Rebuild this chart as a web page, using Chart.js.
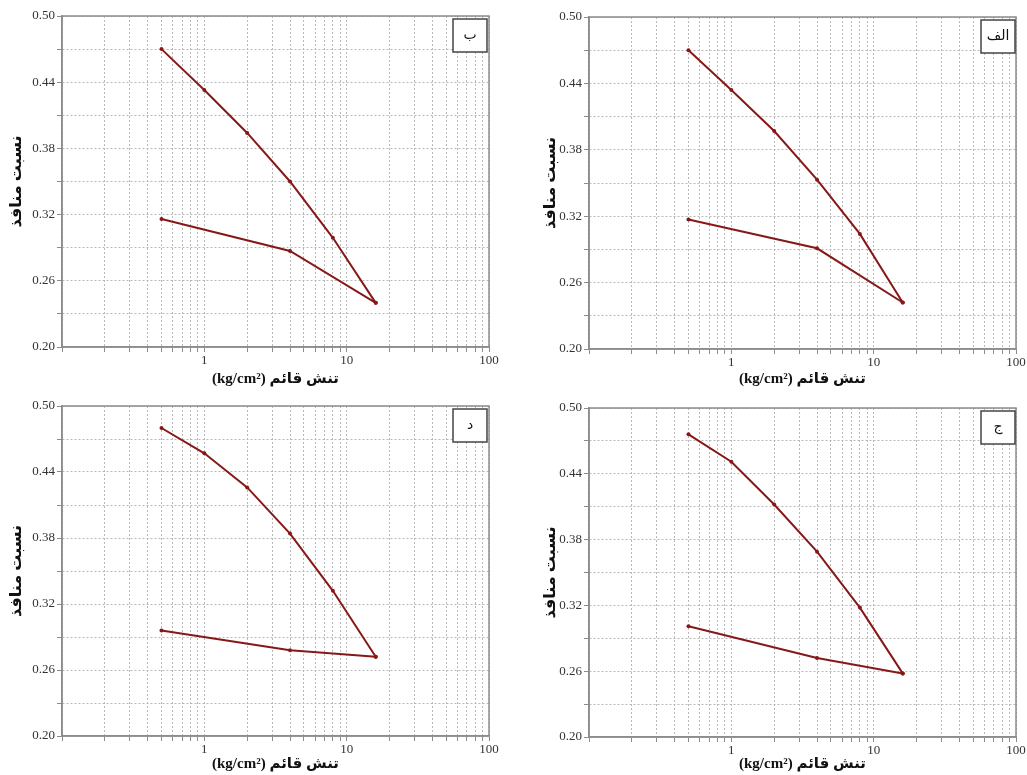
<!DOCTYPE html>
<html>
<head>
<meta charset="utf-8">
<script src="https://cdn.jsdelivr.net/npm/chart.js@4.4.1/dist/chart.umd.min.js"></script>
<style>
  body { margin: 0; background: #fff; }
  .panel { position: absolute; }
</style>
</head>
<body>
<div class="panel" style="left:0;top:0;width:500px;height:390px"><canvas id="chartB"></canvas></div>
<div class="panel" style="left:520px;top:0;width:507px;height:390px"><canvas id="chartAlef"></canvas></div>
<div class="panel" style="left:0;top:390px;width:500px;height:385px"><canvas id="chartDal"></canvas></div>
<div class="panel" style="left:520px;top:390px;width:507px;height:385px"><canvas id="chartJim"></canvas></div>
<script>
// stress (kg/cm2) for loading and unloading branches
const stressLoad = [0.5, 1, 2, 4, 8, 16];
const stressUnload = [16, 4, 0.5];

// void ratio readings per panel
const voidLoadAlef = [0.470, 0.434, 0.397, 0.353, 0.304, 0.242];
const voidUnloadAlef = [0.242, 0.291, 0.317];
const voidLoadB = [0.470, 0.433, 0.394, 0.350, 0.299, 0.240];
const voidUnloadB = [0.240, 0.287, 0.316];
const voidLoadJim = [0.476, 0.451, 0.412, 0.369, 0.318, 0.258];
const voidUnloadJim = [0.258, 0.272, 0.301];
const voidLoadDal = [0.480, 0.457, 0.426, 0.384, 0.332, 0.272];
const voidUnloadDal = [0.272, 0.278, 0.296];

// axis ticks
const xTicks = [0.1, 0.2, 0.3, 0.4, 0.5, 0.6, 0.7, 0.8, 0.9,
                1, 2, 3, 4, 5, 6, 7, 8, 9,
                10, 20, 30, 40, 50, 60, 70, 80, 90, 100];
const xLabels = [1, 10, 100];
const yTicks = [0.20, 0.23, 0.26, 0.29, 0.32, 0.35, 0.38, 0.41, 0.44, 0.47, 0.50];
const yLabels = [0.20, 0.26, 0.32, 0.38, 0.44, 0.50];

const lineColor = '#861818';
const gridColor = '#b8b8b8';
const frameColor = '#8c8c8c';
const serif = "'Liberation Serif', 'DejaVu Serif', serif";
const titleFont = "'Liberation Serif', 'DejaVu Sans', sans-serif";

// frame + corner label box
const panelDecor = {
    id: 'panelDecor',
    beforeDatasetsDraw(chart, args, opts) {
        const a = chart.chartArea;
        const ctx = chart.ctx;
        ctx.save();
        ctx.strokeStyle = frameColor;
        ctx.lineWidth = 1.5;
        ctx.strokeRect(a.left, a.top, a.right - a.left, a.bottom - a.top);
        ctx.restore();
    },
    afterDraw(chart, args, opts) {
        const a = chart.chartArea;
        const ctx = chart.ctx;
        const w = 34, h = 33;
        const x = a.right - w - opts.dx, y = a.top + opts.dy;
        ctx.save();
        ctx.fillStyle = '#fff';
        ctx.fillRect(x, y, w, h);
        ctx.strokeStyle = '#444';
        ctx.lineWidth = 1.5;
        ctx.strokeRect(x, y, w, h);
        ctx.fillStyle = '#111';
        ctx.font = "14px 'DejaVu Sans', sans-serif";
        ctx.textAlign = 'center';
        ctx.textBaseline = 'middle';
        ctx.fillText(opts.text, x + w / 2, y + h / 2);
        ctx.restore();
    }
};

function makeChart(id, letter, loadVals, unloadVals, lay) {
    const ctx = document.getElementById(id).getContext('2d');
    new Chart(ctx, {
        type: 'line',
        data: {
            datasets: [
                {
                    data: stressLoad.map((x, i) => ({ x: x, y: loadVals[i] })),
                    borderColor: lineColor,
                    backgroundColor: lineColor,
                    borderWidth: 2,
                    pointRadius: 2,
                    pointBorderWidth: 0,
                    tension: 0
                },
                {
                    data: stressUnload.map((x, i) => ({ x: x, y: unloadVals[i] })),
                    borderColor: lineColor,
                    backgroundColor: lineColor,
                    borderWidth: 2,
                    pointRadius: 2,
                    pointBorderWidth: 0,
                    tension: 0
                }
            ]
        },
        options: {
            responsive: true,
            maintainAspectRatio: false,
            animation: false,
            layout: { padding: { top: lay.top, right: 11, left: lay.left, bottom: 0 } },
            plugins: {
                legend: { display: false },
                tooltip: { enabled: false },
                panelDecor: { text: letter, dx: lay.boxDx, dy: lay.boxDy }
            },
            scales: {
                x: {
                    type: 'logarithmic',
                    min: 0.1,
                    max: 100,
                    afterBuildTicks: (scale) => { scale.ticks = xTicks.map(v => ({ value: v })); },
                    afterFit: (scale) => { scale.height = lay.xh; },
                    grid: { color: gridColor, lineWidth: 1, tickLength: 5, tickColor: frameColor },
                    border: { color: frameColor, width: 1.5, dash: [2, 2] },
                    ticks: {
                        autoSkip: false,
                        maxRotation: 0,
                        padding: 1,
                        color: '#333',
                        font: { family: serif, size: 13 },
                        callback: (v) => xLabels.includes(v) ? String(v) : ''
                    },
                    title: {
                        display: true,
                        text: '(kg/cm²) تنش قائم',
                        color: '#111',
                        font: { family: titleFont, size: 15, weight: 'bold' },
                        padding: { top: 2, bottom: 2 }
                    }
                },
                y: {
                    min: 0.2,
                    max: 0.5,
                    afterBuildTicks: (scale) => { scale.ticks = yTicks.map(v => ({ value: v })); },
                    afterFit: (scale) => { scale.width = lay.yw; },
                    grid: { color: gridColor, lineWidth: 1, tickLength: 5, tickColor: frameColor },
                    border: { color: frameColor, width: 1.5, dash: [2, 2] },
                    ticks: {
                        autoSkip: false,
                        padding: 2,
                        color: '#333',
                        font: { family: serif, size: 13 },
                        callback: (v) => yLabels.some(l => Math.abs(l - v) < 1e-6) ? v.toFixed(2) : ''
                    },
                    title: {
                        display: true,
                        text: 'نسبت منافذ',
                        color: '#111',
                        font: { family: titleFont, size: 16, weight: 'bold' },
                        padding: { top: 7, bottom: 4 }
                    }
                }
            }
        },
        plugins: [panelDecor]
    });
}

makeChart('chartB', 'ب', voidLoadB, voidUnloadB, { top: 16, left: 0, yw: 62, xh: 43, boxDx: 2, boxDy: 3 });
makeChart('chartAlef', 'الف', voidLoadAlef, voidUnloadAlef, { top: 17, left: 14, yw: 55, xh: 41, boxDx: 1, boxDy: 3 });
makeChart('chartDal', 'د', voidLoadDal, voidUnloadDal, { top: 16, left: 0, yw: 62, xh: 39, boxDx: 2, boxDy: 3 });
makeChart('chartJim', 'ج', voidLoadJim, voidUnloadJim, { top: 18, left: 14, yw: 55, xh: 38, boxDx: 1, boxDy: 3 });
</script>
</body>
</html>
